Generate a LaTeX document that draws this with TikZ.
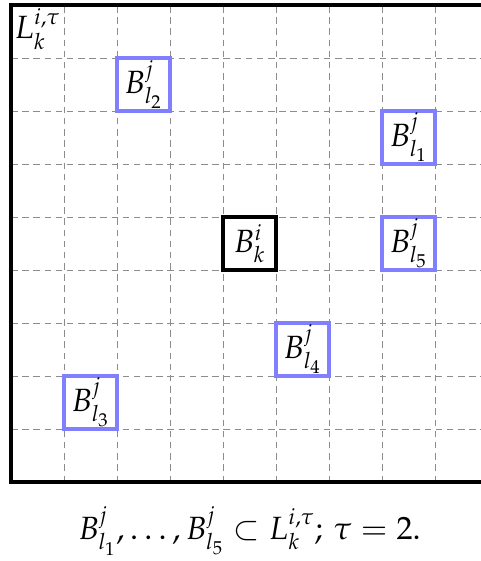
\documentclass[tikz,border=0pt]{standalone}
\usepackage{mathpazo}
\usetikzlibrary{positioning}

\begin{document}
\begin{tikzpicture}[line width=1.8pt]
	\tikzstyle{grid}=[gray!90,line width=0.5pt,dash pattern=on 3.5pt off 2.5pt]
	\tikzstyle{blk}=[draw=blue!50,line width=1.7pt,minimum size=1cm,inner sep=0pt,font=\LARGE]
	\tikzstyle{own}=[blk,draw=black]
	\useasboundingbox (-0.2075,-1.49) rectangle (8.849,9.094);
	% dashed cells of the neighbourhood
	\foreach \t in {1,...,8} {
		\draw[grid] (\t,0) -- (\t,9);
		\draw[grid] (0,\t) -- (9,\t);
	}
	\draw (0,0) rectangle (9,9);
	\node[anchor=north west,inner sep=1pt,font=\LARGE] (L) at (0,9) {$L_k^{i,\tau}$};
	\node[own] (Bk) at (4.5,4.5) {$B_k^i$};
	\foreach \name/\l/\x/\y in {l1/1/7.5/6.5, l2/2/2.5/7.5, l3/3/1.5/1.5, l4/4/5.5/2.5, l5/5/7.5/4.5}
		\node[blk] (\name) at (\x,\y) {$B^j_{l_\l}$};
	\node[font=\LARGE] (caption) at (4.5,-0.92) {$B^j_{l_1},\dots,B^j_{l_5}\subset L_k^{i,\tau};\,\tau=2.$};
\end{tikzpicture}
\end{document}
